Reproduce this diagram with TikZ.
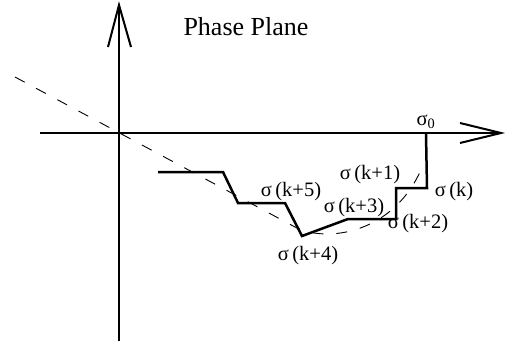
\documentclass[tikz,border=0pt]{standalone}
\usepackage{fontspec}
\setmainfont{Liberation Serif}
\begin{document}
\begin{tikzpicture}[x=1pt,y=-1pt,
  axis/.style={line width=2pt},
  vee/.style={line width=2pt,line join=miter},
  stair/.style={line width=2.5pt,line join=miter},
  guide/.style={line width=0.9pt,dash pattern=on 11pt off 13pt},
  lbl/.style={inner sep=0pt,font=\fontsize{20.5}{23}\selectfont},
  title/.style={inner sep=0pt,font=\fontsize{26}{29}\selectfont}]
\useasboundingbox (0,0) rectangle (505,342);
% axes
\coordinate (xl) at (40,133);
\coordinate (xr) at (501,133);
\coordinate (yt) at (119,5);
\coordinate (yb) at (119,341);
\coordinate (xa1) at (460,123);
\coordinate (xa2) at (460,143);
\coordinate (ya1) at (108,47);
\coordinate (ya2) at (131,47);
\draw[axis] (xl) -- (xr);
\draw[axis] (yb) -- (yt);
\draw[vee] (xa1) -- (xr) -- (xa2);
\draw[vee] (ya1) -- (yt) -- (ya2);
% dashed switching curve
\coordinate (d0) at (15,77);
\coordinate (d1) at (295,227);
\coordinate (d2) at (423,165);
\draw[guide] (d0) -- (d1) .. controls (325,243) and (395,235) .. (d2);
% staircase trajectory
\coordinate (s0) at (158,172);
\coordinate (s1) at (223,172);
\coordinate (s2) at (238,203);
\coordinate (s3) at (285,203);
\coordinate (s4) at (302,236);
\coordinate (s5) at (348,219);
\coordinate (s6) at (396,219);
\coordinate (s7) at (396,188);
\coordinate (s8) at (427,188);
\coordinate (s9) at (426,134);
\draw[stair] (s0) -- (s1) -- (s2) -- (s3) -- (s4) -- (s5) -- (s6) -- (s7) -- (s8) -- (s9);
% labels
\node[title] (tt) at (246,27) {Phase Plane};
\node[lbl] (l0) at (426,122) {σ\textsubscript{0}};
\node[lbl] (l1) at (370,175) {σ\,(k+1)};
\node[lbl] (lk) at (454,192) {σ\,(k)};
\node[lbl] (l5) at (291,192) {σ\,(k+5)};
\node[lbl] (l3) at (354,208) {σ\,(k+3)};
\node[lbl] (l2) at (418,224) {σ\,(k+2)};
\node[lbl] (l4) at (308,256) {σ\,(k+4)};
\end{tikzpicture}
\end{document}
